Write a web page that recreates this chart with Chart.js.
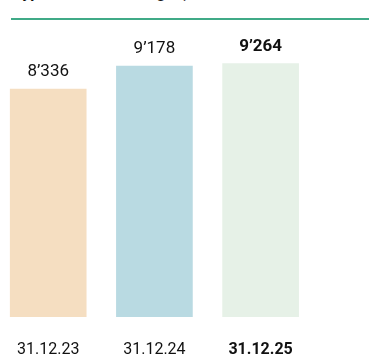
<!DOCTYPE html>
<html lang="de">
<head>
  <meta charset="UTF-8" />
  <title>Hypothekarforderungen</title>
  <script src="https://cdn.jsdelivr.net/npm/chart.js"></script>
  <style>
    * { box-sizing: border-box; margin: 0; padding: 0; }
    html, body {
      width: 369px;
      height: 356px;
      overflow: hidden;
      background: #fff;
      font-family: Roboto, 'Noto Sans', sans-serif;
    }
    .title {
      position: absolute;
      left: 11px;
      top: -17px;
      font: bold 16px Roboto, sans-serif;
      line-height: 20px;
      color: #111;
      white-space: nowrap;
    }
    .rule {
      position: absolute;
      left: 11px;
      top: 18px;
      width: 358px;
      height: 2px;
      background: #40aa87;
    }
    #chart {
      position: absolute;
      left: -6px;
      top: 0;
    }
  </style>
</head>
<body>
  <div class="title">Hypothekarforderungen, in Mio. CHF</div>
  <div class="rule"></div>
  <canvas id="chart" width="322" height="383"></canvas>

  <script>
    // data
    const dates = ['31.12.23', '31.12.24', '31.12.25'];
    const values = [8336, 9178, 9264];
    const barColors = ['#f5dec1', '#b9dae2', '#e6f1e7'];
    const boldIndex = 2;

    function fmt(v) {
      return String(v).replace(/\B(?=(\d{3})+(?!\d))/g, '\u2019');
    }

    // value labels above the bars
    const valueLabels = {
      id: 'valueLabels',
      afterDatasetsDraw(chart) {
        const ctx = chart.ctx;
        const meta = chart.getDatasetMeta(0);
        ctx.save();
        ctx.fillStyle = '#111';
        ctx.textAlign = 'center';
        ctx.textBaseline = 'alphabetic';
        meta.data.forEach((bar, i) => {
          ctx.font = (i === boldIndex ? 'bold ' : '') + '17px Roboto, sans-serif';
          ctx.fillText(fmt(values[i]), bar.x, bar.y - 13);
        });
        ctx.restore();
      }
    };

    new Chart(document.getElementById('chart'), {
      type: 'bar',
      data: {
        labels: dates,
        datasets: [{
          data: values,
          backgroundColor: barColors,
          borderWidth: 0,
          barThickness: 76
        }]
      },
      options: {
        responsive: false,
        animation: false,
        layout: { padding: { top: 43.5, left: 0, right: 0, bottom: 0 } },
        plugins: {
          legend: { display: false },
          tooltip: { enabled: false }
        },
        scales: {
          x: {
            grid: { display: false, drawTicks: false },
            border: { display: false },
            ticks: {
              padding: 23.4,
              color: '#111',
              font: (c) => ({
                family: 'Roboto, sans-serif',
                size: 16,
                weight: c.index === boldIndex ? 'bold' : 'normal'
              })
            }
          },
          y: {
            display: false,
            min: 0,
            max: 10000
          }
        }
      },
      plugins: [valueLabels]
    });
  </script>
</body>
</html>
